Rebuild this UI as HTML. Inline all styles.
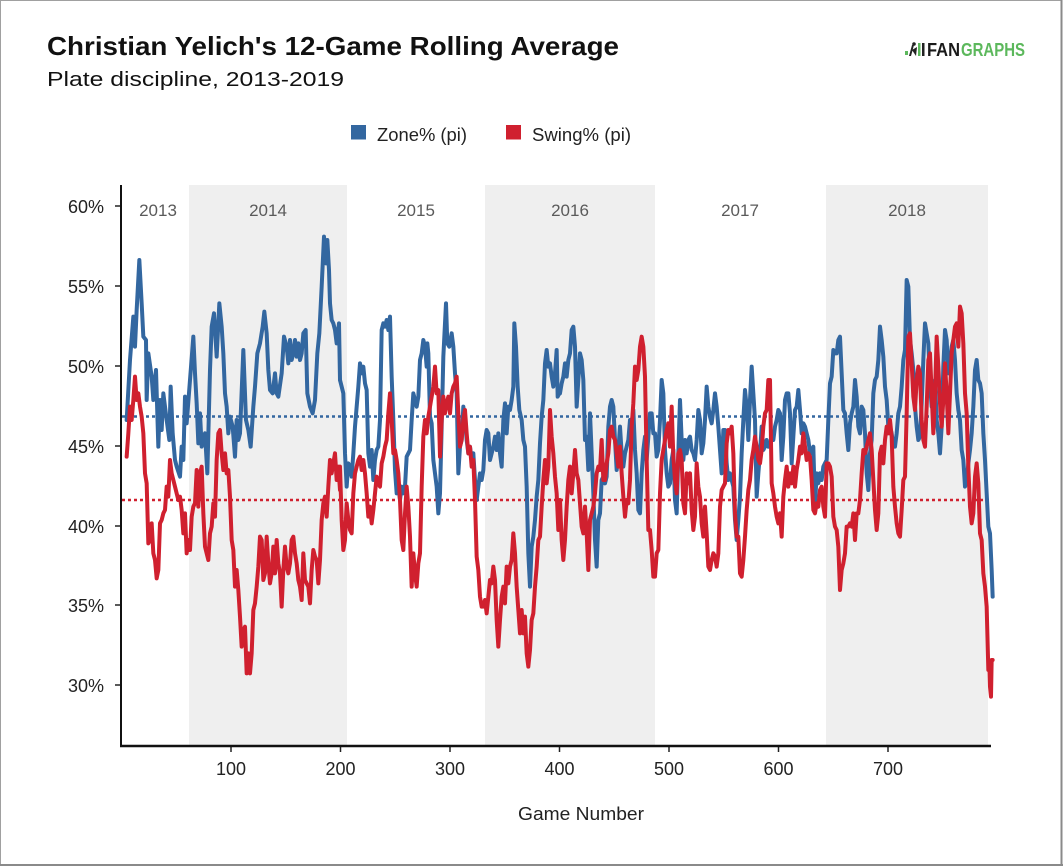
<!DOCTYPE html>
<html>
<head>
<meta charset="utf-8">
<style>
html,body{margin:0;padding:0;background:#fff;}
#wrap{position:relative;width:1063px;height:866px;overflow:hidden;background:#fff;}
svg{position:absolute;left:0;top:0;}
text{font-family:"Liberation Sans",sans-serif;}
</style>
</head>
<body>
<div id="wrap">
<svg width="1063" height="866" viewBox="0 0 1063 866" xmlns="http://www.w3.org/2000/svg">
  <!-- border -->
  <rect x="0.5" y="0.5" width="1061" height="864.5" fill="none" stroke="#a0a0a0" stroke-width="1"/>
  <line x1="1061.5" y1="0" x2="1061.5" y2="866" stroke="#8a8a8a" stroke-width="2"/>
  <line x1="0" y1="865" x2="1063" y2="865" stroke="#8a8a8a" stroke-width="2"/>

  <!-- titles -->
  <text x="47" y="55" font-size="26" font-weight="bold" fill="#111" textLength="572" lengthAdjust="spacingAndGlyphs">Christian Yelich's 12-Game Rolling Average</text>
  <text x="47" y="86" font-size="20" fill="#111" textLength="297" lengthAdjust="spacingAndGlyphs">Plate discipline, 2013-2019</text>

  <!-- logo -->
  <g>
    <rect x="905" y="51" width="3" height="4" fill="#5cb85c"/>
    <path d="M909,56 L912,45 L914,45 L911,56 Z" fill="#222"/>
    <circle cx="914" cy="44" r="1.8" fill="#222"/>
    <path d="M912,50 L917,47 L916,56 Z" fill="#222"/>
    <rect x="918" y="43" width="2.5" height="13" fill="#5cb85c"/>
    <rect x="922" y="43" width="2.5" height="13" fill="#222"/>
    <text x="927" y="56" font-size="18" font-weight="bold" fill="#1a1a1a" textLength="33" lengthAdjust="spacingAndGlyphs">FAN</text>
    <text x="961" y="56" font-size="18" font-weight="bold" fill="#5cb85c" textLength="64" lengthAdjust="spacingAndGlyphs">GRAPHS</text>
  </g>

  <!-- legend -->
  <rect x="351" y="125" width="15" height="14.5" fill="#3367a0"/>
  <text x="377" y="141" font-size="18" fill="#222" textLength="90" lengthAdjust="spacingAndGlyphs">Zone% (pi)</text>
  <rect x="506" y="125" width="15" height="14.5" fill="#d0202f"/>
  <text x="532" y="141" font-size="18" fill="#222" textLength="99" lengthAdjust="spacingAndGlyphs">Swing% (pi)</text>

  <!-- shaded seasons -->
  <rect x="189" y="185" width="158" height="560" fill="#efefef"/>
  <rect x="485" y="185" width="170" height="560" fill="#efefef"/>
  <rect x="826" y="185" width="162" height="560" fill="#efefef"/>

  <!-- year labels -->
  <g font-size="17" fill="#5a5a5a" text-anchor="middle">
    <text x="158" y="216">2013</text>
    <text x="268" y="216">2014</text>
    <text x="416" y="216">2015</text>
    <text x="570" y="216">2016</text>
    <text x="740" y="216">2017</text>
    <text x="907" y="216">2018</text>
  </g>

  <!-- y ticks -->
  <g stroke="#222" stroke-width="1.5">
    <line x1="115" y1="206" x2="121" y2="206"/>
    <line x1="115" y1="286" x2="121" y2="286"/>
    <line x1="115" y1="366" x2="121" y2="366"/>
    <line x1="115" y1="446" x2="121" y2="446"/>
    <line x1="115" y1="526" x2="121" y2="526"/>
    <line x1="115" y1="605" x2="121" y2="605"/>
    <line x1="115" y1="685" x2="121" y2="685"/>
  </g>
  <g font-size="18" fill="#222" text-anchor="end">
    <text x="104" y="213">60%</text>
    <text x="104" y="293">55%</text>
    <text x="104" y="373">50%</text>
    <text x="104" y="453">45%</text>
    <text x="104" y="533">40%</text>
    <text x="104" y="612">35%</text>
    <text x="104" y="692">30%</text>
  </g>

  <!-- x ticks -->
  <g stroke="#222" stroke-width="1.5">
    <line x1="231" y1="746" x2="231" y2="752"/>
    <line x1="340.5" y1="746" x2="340.5" y2="752"/>
    <line x1="450" y1="746" x2="450" y2="752"/>
    <line x1="559.5" y1="746" x2="559.5" y2="752"/>
    <line x1="669" y1="746" x2="669" y2="752"/>
    <line x1="778.5" y1="746" x2="778.5" y2="752"/>
    <line x1="888" y1="746" x2="888" y2="752"/>
  </g>
  <g font-size="18" fill="#222" text-anchor="middle">
    <text x="231" y="775">100</text>
    <text x="340.5" y="775">200</text>
    <text x="450" y="775">300</text>
    <text x="559.5" y="775">400</text>
    <text x="669" y="775">500</text>
    <text x="778.5" y="775">600</text>
    <text x="888" y="775">700</text>
  </g>
  <text x="581" y="820" font-size="18" fill="#222" text-anchor="middle" textLength="126" lengthAdjust="spacingAndGlyphs">Game Number</text>

  <!-- reference dotted lines -->
  <line x1="122" y1="416.5" x2="990" y2="416.5" stroke="#3367a0" stroke-width="2.5" stroke-dasharray="3,3"/>
  <line x1="122" y1="500" x2="990" y2="500" stroke="#d0202f" stroke-width="2.5" stroke-dasharray="3,3"/>

  <!-- BLUE series -->
  <g fill="none" stroke="#3367a0" stroke-width="4" stroke-linejoin="round" stroke-linecap="round">
    <polyline vector-effect="non-scaling-stroke" transform="translate(120,220) scale(0.33333)" points="20,600 30,420 40,290 45,380 50,270 58,120 65,250 70,350 78,360 80,540 85,400 95,470 100,540 108,450 115,680 120,540 125,630 130,520 140,600 148,660 152,500 158,640 165,720 170,740 180,770 185,680 190,720 195,530 200,610 210,480 220,350 225,460 230,550 235,670 240,580 245,680 255,640 262,760 270,450 275,320 282,280 290,410 298,250 305,320 310,400 315,520 320,560 325,640 330,590 338,620 345,710 350,600 355,660 360,640 370,390 378,600 385,630 392,680 400,560 405,500 412,400 420,370 428,320 433,275 440,340 445,450 450,510 458,520 465,460 470,520 475,530 485,460 492,350 500,380 505,430 510,360 515,420 520,400 525,360 530,410 535,370 540,420 545,400 550,340 557,330 562,520 570,560 578,580 585,540 592,400 598,340 605,200 612,50 618,130 622,60 627,150 630,250 635,300 640,310 645,330 650,370 657,310 660,480"/>
    <polyline vector-effect="non-scaling-stroke" transform="translate(340,220) scale(0.33333)" points="0,480 5,500 10,520 15,700 20,800 25,730 30,740 35,770 40,700 45,620 50,560 55,500 60,430 65,460 70,440 75,490 80,510 85,700 90,740 95,690 100,780 105,720 110,690 115,680 120,600 125,330 130,310 135,320 140,300 145,330 150,290 155,470 160,600 165,750 170,820 175,800 180,840 185,800 190,820 195,800 200,710 205,700 210,690 215,600 220,520 225,540 230,560 235,530 240,420 245,400 250,360 255,380 260,440 262,370 265,400 270,590 275,610 280,720 285,760 290,800 295,880 300,820 305,620 310,410 313,350 318,250 322,370 328,380 335,340 340,380 345,460 350,520 355,760 360,680 365,660 370,560 375,600 380,660 385,700 390,680 395,720 400,700 405,780 410,840 415,800 420,760 425,780 430,750 435,660 440,630 445,640 450,720 455,700 460,680 465,650 470,690 475,640 480,700 485,740 490,600 495,550 500,640 505,560 510,570 515,540 520,500 523,310 528,380 533,500 538,570 545,600 550,660 555,680 560,800 565,1000 570,1100 575,980 580,950 585,900 590,830 595,780 600,670 605,590 610,540 615,430 620,390 625,440 630,430 635,470 640,500 645,460 650,390 653,530 658,520 660,515"/>
    <polyline vector-effect="non-scaling-stroke" transform="translate(560,220) scale(0.33333)" points="0,520 5,490 10,470 15,430 20,470 25,420 30,400 35,330 40,320 45,380 50,560 55,480 60,400 65,420 70,480 75,660 80,650 85,750 90,580 95,700 100,820 105,960 110,1040 115,900 120,880 125,780 130,770 135,790 140,770 145,620 150,560 155,540 160,560 165,660 170,750 175,690 180,620 185,700 190,740 195,700 200,680 205,660 210,600 215,610 220,570 225,690 230,760 235,870 240,880 245,760 250,690 255,650 260,720 265,650 270,580 275,580 280,640 285,640 290,710 295,690 300,600 305,480 310,520 315,690 320,760 325,800 330,790 335,720 340,690 345,840 350,880 355,700 360,540 365,660 370,720 375,660 380,700 385,660 390,650 395,690 400,700 405,720 410,660 415,570 420,600 425,700 430,670 435,600 440,500 445,560 450,590 455,610 460,570 465,520 470,560 475,620 480,690 485,760 490,630 495,630 500,730 505,780 510,760 515,780 520,800 525,900 530,960 535,900 540,830 545,700 550,600 555,510 560,560 565,660 570,540 575,440 580,520 585,600 590,830 595,760 600,700 605,620 610,690 615,680 620,660 625,680 630,670"/>
    <polyline vector-effect="non-scaling-stroke" transform="translate(770,220) scale(0.33333)" points="0,680 5,640 10,660 15,620 20,600 25,570 30,580 35,720 40,650 45,540 50,520 55,520 60,580 65,730 70,650 75,570 80,560 85,510 90,570 95,640 100,610 105,620 110,640 115,660 120,700 125,690 130,680 135,860 140,760 145,790 150,760 155,780 160,740 165,730 170,720 175,600 180,490 185,470 190,390 195,400 200,400 205,360 210,350 215,460 220,570 225,580 230,640 235,690 240,610 245,580 250,560 255,480 260,530 265,620 270,640 275,560 280,570 285,640 290,760 295,810 300,700 305,660 310,520 315,480 320,470 325,420 330,320 335,360 340,410 345,500 350,540 355,620 360,620 365,640 370,680 375,680 380,640 385,580 390,560 395,500 400,420 405,390 410,180 415,200 420,360 425,400 430,450 435,560 440,620 445,660 450,650 455,550 460,420 465,310 470,340 475,370 480,490 485,560 490,500 495,480 500,600 505,640 510,700 515,620 520,440 525,330 530,360 535,460 540,430 545,380 550,360 555,420 560,520 565,570 570,600 575,690 580,720 585,800 590,790 595,730 600,690 605,640 610,560 615,450 620,420 625,480 630,490 635,520 640,640 645,720 650,820 655,920 660,940 665,1050 668,1130"/>
  </g>

  <!-- RED series -->
  <g fill="none" stroke="#d0202f" stroke-width="4" stroke-linejoin="round" stroke-linecap="round">
    <polyline vector-effect="non-scaling-stroke" transform="translate(120,220) scale(0.33333)" points="20,710 25,640 30,560 35,600 40,540 45,470 50,540 55,520 60,560 65,590 70,640 75,760 80,790 85,970 90,960 95,910 100,1000 105,1020 110,1075 115,1050 120,910 125,900 130,880 135,870 140,800 145,830 150,720 155,760 160,780 165,800 170,820 175,840 180,830 185,870 190,940 195,880 200,1000 205,960 210,990 215,890 220,860 225,850 230,750 235,860 240,760 245,740 250,880 255,980 260,1000 265,1020 270,940 275,920 280,850 285,890 290,720 295,640 300,630 305,700 310,750 315,700 320,760 325,750 330,830 335,960 340,990 345,1100 350,1050 355,1110 360,1190 365,1280 370,1230 375,1220 380,1360 385,1300 390,1360 395,1300 400,1170 405,1150 410,1100 415,1040 420,950 425,960 430,1080 435,1060 440,950 445,1030 450,1090 455,1060 460,980 465,1060 470,960 475,1030 480,1060 485,1160 490,1050 495,980 500,1040 505,1060 510,1030 515,960 520,950 525,1000 530,1030 535,1080 540,1100 545,1140 550,1000 555,1080 560,1090 565,1100 570,1150 575,1050 580,990 585,1010 590,1020 595,1090 600,1020 605,900 610,850 615,830 620,890 625,800 630,720 635,760 640,730 645,700 650,780 655,740 660,810"/>
    <polyline vector-effect="non-scaling-stroke" transform="translate(340,220) scale(0.33333)" points="0,740 5,900 10,990 15,960 20,850 25,900 30,930 35,940 40,820 45,760 50,740 55,720 60,710 65,750 70,720 75,760 80,820 85,890 90,860 95,910 100,870 105,820 110,770 115,790 120,800 125,730 130,710 135,680 140,660 145,580 150,520 155,600 160,700 165,690 170,720 175,760 180,840 185,960 190,990 195,880 200,800 205,860 210,950 215,1100 220,1000 225,1060 230,1100 235,1030 240,1000 245,800 250,650 255,600 260,640 265,590 270,560 275,530 280,500 285,440 290,520 295,510 300,710 305,600 310,530 315,580 320,550 325,530 330,580 335,520 340,500 345,490 350,470 355,580 360,680 365,660 370,600 375,570 380,640 385,700 390,680 395,740 400,720 405,840 410,1010 415,1050 420,1130 425,1160 430,1160 435,1140 440,1180 445,1130 450,1080 455,1090 460,1040 465,1080 470,1200 475,1280 480,1200 485,1130 490,1100 495,1150 500,1040 505,1090 510,1040 515,1020 520,940 525,1000 530,1100 535,1170 540,1240 545,1170 550,1240 555,1190 560,1300 565,1340 570,1290 575,1200 580,1180 585,1100 590,1040 595,960 600,950 605,860 610,780 615,720 620,790 625,740 630,570 635,650 640,700 645,770 650,820 655,930 660,850"/>
    <polyline vector-effect="non-scaling-stroke" transform="translate(560,220) scale(0.33333)" points="0,840 5,960 10,1020 15,960 20,860 25,780 30,740 35,820 40,760 45,690 50,760 55,780 60,850 65,920 70,940 75,860 80,940 85,1050 90,900 95,880 100,860 105,820 110,760 115,740 120,750 125,660 130,780 135,780 140,730 145,700 150,630 155,620 160,650 165,660 170,700 175,740 180,680 185,760 190,830 195,890 200,840 205,850 210,780 215,620 220,550 225,440 230,480 235,450 240,380 245,350 250,380 255,470 260,720 265,930 270,930 275,990 280,1070 285,1070 290,1000 295,990 300,820 305,720 310,690 315,660 320,630 325,610 330,680 335,560 340,710 345,780 350,820 355,700 360,690 365,720 370,850 375,880 380,760 385,790 390,760 395,870 400,930 405,890 410,730 415,800 420,830 425,910 430,950 435,860 440,940 445,1040 450,1050 455,1020 460,1000 465,1010 470,1040 475,1000 480,860 485,810 490,800 495,790 500,670 505,630 510,640 515,620 520,700 525,880 530,950 535,950 540,1060 545,1070 550,1020 555,950 560,870 565,810 570,780 575,720 580,690 585,650 590,680 595,720 600,730 605,690 610,620 615,580 620,570 625,480"/>
    <polyline vector-effect="non-scaling-stroke" transform="translate(770,220) scale(0.33333)" points="0,480 5,790 10,820 15,860 20,890 25,910 30,880 35,950 40,830 45,780 50,740 55,800 60,760 65,790 70,740 75,800 80,750 85,720 90,680 95,700 100,640 105,680 110,720 115,700 120,710 125,780 130,870 135,880 140,850 145,860 150,810 155,800 160,860 165,890 170,730 175,730 180,740 185,770 190,890 195,920 200,930 205,980 210,1110 215,1050 220,1030 225,1000 230,920 235,920 240,910 245,920 250,880 255,960 260,880 265,880 270,840 275,760 280,690 285,700 290,680 295,660 300,640 305,690 310,780 315,870 320,930 325,880 330,700 335,680 340,730 345,660 350,620 355,640 360,600 365,650 370,800 375,860 380,910 385,940 390,950 395,870 400,780 405,770 410,580 415,350 420,340 425,430 430,530 435,570 440,480 445,440 450,460 455,600 460,660 465,680 470,560 475,420 480,400 485,520 490,640 495,520 500,350 505,440 510,550 515,620 520,540 525,430 530,520 535,640 540,520 545,400 550,360 555,320 560,310 565,380 570,260 575,280 580,370 585,520 590,580 595,740 600,860 605,910 610,880 615,770 620,730 625,790 630,940 635,960 640,1060 645,1100 650,1160 655,1350 658,1330 660,1400 663,1430 665,1320 668,1320"/>
  </g>

  <!-- axes -->
  <line x1="121" y1="185" x2="121" y2="747" stroke="#111" stroke-width="2"/>
  <line x1="120" y1="746" x2="991" y2="746" stroke="#111" stroke-width="2.5"/>
</svg>
</div>
</body>
</html>
